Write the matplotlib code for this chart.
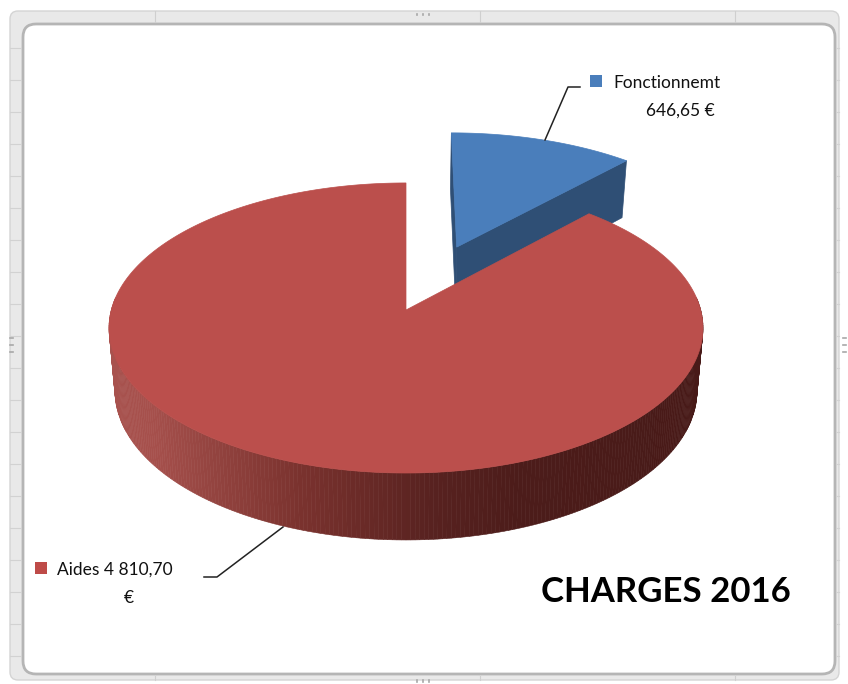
import matplotlib
matplotlib.use("Agg")
import matplotlib.pyplot as plt
import numpy as np
from matplotlib.patches import FancyBboxPatch, Polygon, Rectangle

# values from the chart
labels = ["Fonctionnemt", "Aides"]
values = [646.65, 4810.70]
value_labels = ["646,65 €", "4 810,70"]
title_text = "CHARGES 2016"

BLUE = "#4a7ebb"
BLUE_DARK = "#2f4f75"
RED = "#bb4f4c"

# projection of the pie disc to screen pixels
CX, CY = 406, 310
RX, RY = 294.7, 142.8
PERSP = 0.124


def project(x, z, low=False):
    w = 1 + PERSP * z
    sx = RX * x / w
    sy = RY * z / w
    if low:
        sx *= 0.98
        sy -= 62 / (1 + 0.074 * z)
    return CX + sx, CY - sy


def ring(a0, a1, ox=0.0, oz=0.0, low=False, n=200):
    # angles are clockwise from 12 o'clock
    t = np.radians(np.linspace(a0, a1, n))
    return project(np.sin(t) + ox, np.cos(t) + oz, low)


def side_color(x):
    xs = [107, 150, 300, 430, 520, 701]
    rs = [168, 166, 122, 88, 76, 72]
    gs = [82, 80, 50, 34, 28, 26]
    bs = [78, 76, 46, 32, 26, 24]
    return (np.interp(x, xs, rs) / 255, np.interp(x, xs, gs) / 255, np.interp(x, xs, bs) / 255)


fig = plt.figure(figsize=(8.48, 6.84), dpi=100)
ax = fig.add_axes([0, 0, 1, 1])
ax.set_xlim(0, 848)
ax.set_ylim(684, 0)
ax.axis("off")

# excel selection frame around the chart
ax.add_patch(FancyBboxPatch((10, 11), 829, 669, boxstyle="round,pad=0,rounding_size=8",
                            fc="#e9e9e9", ec="#d4d4d4", lw=1))
for x in [155, 480, 735]:
    ax.plot([x, x], [11, 22], color="#cfcfcf", lw=0.8)
    ax.plot([x, x], [676, 680], color="#cfcfcf", lw=0.8)
for y in range(48, 660, 32):
    ax.plot([10, 21], [y, y], color="#d2d2d2", lw=0.8)
    ax.plot([836, 839], [y, y], color="#d2d2d2", lw=0.8)
for x in [417, 423, 429]:
    ax.plot([x, x], [13.5, 15], color="#a8a8a8", lw=1.2)
    ax.plot([x, x], [680, 682], color="#a8a8a8", lw=1.2)
for y in [338, 345, 352]:
    ax.plot([10, 13], [y, y], color="#a8a8a8", lw=1.2)
    ax.plot([843, 846], [y, y], color="#a8a8a8", lw=1.2)
ax.add_patch(FancyBboxPatch((23, 24), 812, 650, boxstyle="round,pad=0,rounding_size=13",
                            fc="white", ec="#b5b5b5", lw=2))

# slices run clockwise from 12 o'clock
sweep = 360 * values[0] / sum(values)
mid = np.radians(sweep / 2)
explode = 0.5
ox, oz = explode * np.sin(mid), explode * np.cos(mid)

# blue slice, pulled out, drawn behind the red one
ax0, az0 = project(ox, oz)
bx0, bz0 = project(ox, oz, True)
tipx, tipz = ring(sweep, sweep, ox, oz, n=2)
lowtipx, lowtipz = ring(sweep, sweep, ox, oz, True, n=2)
ax.add_patch(Polygon([(ax0, az0), (tipx[0], tipz[0]), (lowtipx[0], lowtipz[0]), (bx0, bz0)],
                     fc=BLUE_DARK, ec=BLUE_DARK, lw=0.5))
topx, topz = ring(0, 0, ox, oz, n=2)
lowtopx, lowtopz = ring(0, 0, ox, oz, True, n=2)
ax.add_patch(Polygon([(topx[0], topz[0]), (ax0, az0), (bx0, bz0), (lowtopx[0], lowtopz[0])],
                     fc=BLUE_DARK, ec=BLUE_DARK, lw=0.5))
xs, ys = ring(0, sweep, ox, oz)
ax.add_patch(Polygon(np.column_stack([np.r_[ax0, xs], np.r_[az0, ys]]), fc=BLUE, ec=BLUE, lw=0.5))

# red wall, cut in thin strips for the shading
t_edges = np.linspace(85, 275, 241)
for a0, a1 in zip(t_edges[:-1], t_edges[1:]):
    x0, y0 = ring(a0, a1, n=3)
    x1, y1 = ring(a0, a1, low=True, n=3)
    c = side_color(x0.mean())
    ax.add_patch(Polygon(np.column_stack([np.r_[x0, x1[::-1]], np.r_[y0, y1[::-1]]]),
                         fc=c, ec=c, lw=0.4))

# red top
xs, ys = ring(sweep, 360, n=500)
ax.add_patch(Polygon(np.column_stack([np.r_[CX, xs], np.r_[CY, ys]]), fc=RED, ec=RED, lw=0.5))

# leader lines
ax.plot([580, 568, 545], [87, 87, 140], color="#222222", lw=1.1)
ax.plot([204, 217, 283], [577, 577, 527], color="#222222", lw=1.1)

# labels
font = "Lato"
ax.add_patch(Rectangle((590, 75), 12, 12, fc=BLUE, ec="none"))
ax.text(613, 83, labels[0], fontsize=12.5, family=font, color="#111111", va="center", ha="left")
ax.text(680, 111, value_labels[0], fontsize=12.5, family=font, color="#111111", va="center", ha="center")
ax.add_patch(Rectangle((35, 562), 12, 12, fc="#be4b48", ec="none"))
ax.text(57, 570, labels[1] + " " + value_labels[1], fontsize=12.5, family=font, color="#111111",
        va="center", ha="left")
ax.text(129, 598, "€", fontsize=12.5, family=font, color="#111111", va="center", ha="center")
ax.text(666, 592, title_text, fontsize=25, family=font, weight="bold", color="black",
        va="center", ha="center")

fig.savefig("out.png", dpi=100)
